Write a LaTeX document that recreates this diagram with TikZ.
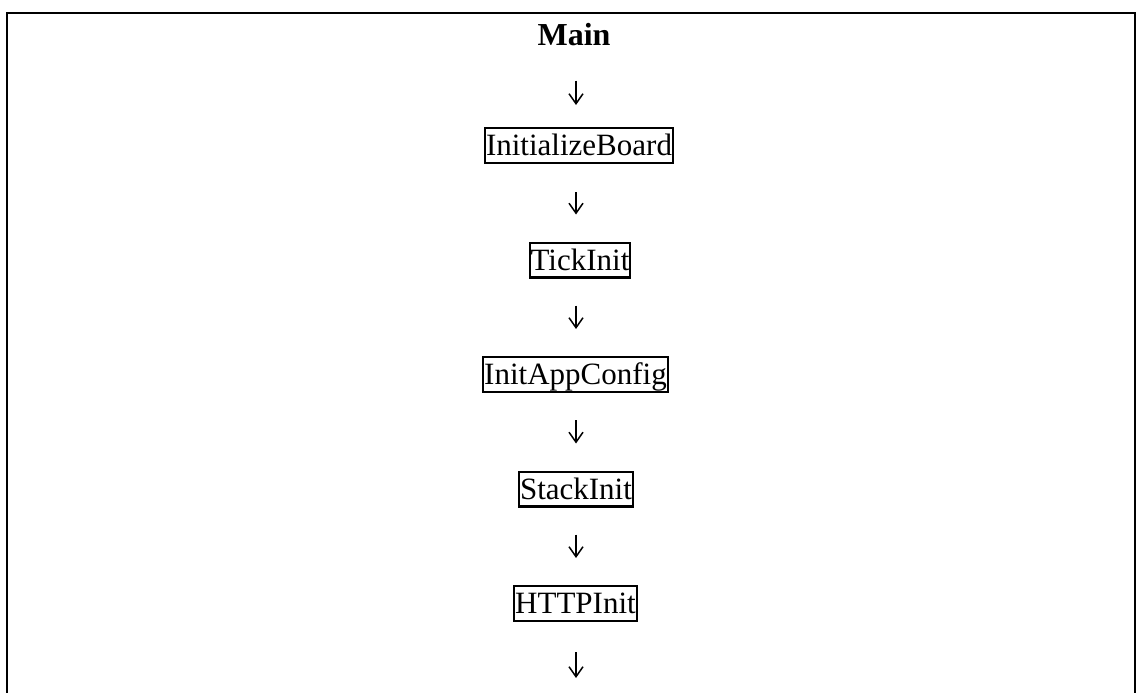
\documentclass[tikz,border=0pt]{standalone}
\usepackage{fontspec}
\setmainfont{Liberation Serif}
\usetikzlibrary{arrows.meta}
\begin{document}
\begin{tikzpicture}[x=1pt,y=1pt,
  frame/.style={line width=2.4pt},
  fnbox/.style={draw, line width=2.2pt, inner xsep=1pt, inner ysep=0.25pt,
    font=\fontsize{31}{37}\selectfont, text height=27.6pt, text depth=6.7pt},
  title/.style={inner sep=0pt, font=\fontsize{32}{38}\selectfont\bfseries},
  flow/.style={line width=1.5pt, -{Straight Barb[length=10pt,width=14pt]}}
]
\useasboundingbox (0,0) rectangle (1136,-693);
% outer frame (open at the bottom)
\draw[frame] (7,-694) -- (7,-13) -- (1135,-13) -- (1135,-694);

\node[title, anchor=base] (main) at (574,-46) {Main};
\node[fnbox] (ib)    at (579,-145.5) {InitializeBoard};
\node[fnbox] (tick)  at (580,-260)   {TickInit};
\node[fnbox] (iac)   at (575.5,-374.5) {InitAppConfig};
\node[fnbox] (stack) at (576,-489)   {StackInit};
\node[fnbox] (http)  at (575.5,-603.5) {HTTPInit};
\coordinate (end) at (576,-678);

\draw[flow] ([xshift=2pt,yshift=-34pt]main.south) -- ([xshift=-3pt,yshift=22pt]ib.north);
\draw[flow] ([xshift=-3pt,yshift=-28pt]ib.south) -- ([xshift=-4pt,yshift=27pt]tick.north);
\draw[flow] ([xshift=-4pt,yshift=-27pt]tick.south) -- ([xshift=0.5pt,yshift=27pt]iac.north);
\draw[flow] ([xshift=0.5pt,yshift=-27pt]iac.south) -- ([yshift=27pt]stack.north);
\draw[flow] ([yshift=-27pt]stack.south) -- ([xshift=0.5pt,yshift=27pt]http.north);
\draw[flow] ([xshift=0.5pt,yshift=-30pt]http.south) -- (end);
\end{tikzpicture}
\end{document}
